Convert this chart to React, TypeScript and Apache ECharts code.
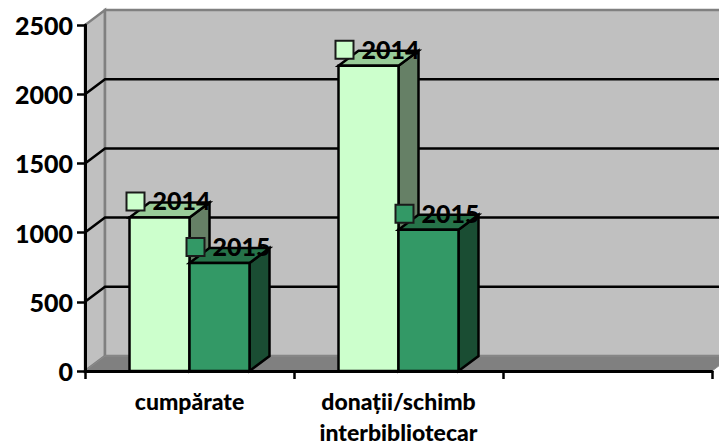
import React, { useEffect, useRef } from "react";
import * as echarts from "echarts";

const categories = ["cumpărate", "donații/schimb\ninterbibliotecar", ""];
const values2014 = [1110, 2205, null];
const values2015 = [780, 1020, null];
const innerTicks = [500, 1000, 1500, 2000];

const DX = 20;
const DY = 15;
const BAR_FRACTION = 60 / 209;
const FONT = "Lato";

function pts(list: number[][]) {
  return { points: list };
}

function wallsItem(params: any, api: any) {
  const [, y0] = api.coord([0, 0]);
  const [, y1] = api.coord([0, 2500]);
  const x = params.coordSys.x;
  const width = params.coordSys.width;
  const grey = "#808080";
  return {
    type: "group",
    children: [
      {
        type: "polygon",
        shape: pts([[x, y0], [x + DX, y0 - DY], [x + DX, y1 - DY], [x, y1]]),
        style: { fill: "#C0C0C0", stroke: grey, lineWidth: 2.5 },
      },
      {
        type: "rect",
        shape: { x: x + DX, y: y1 - DY, width, height: y0 - y1 },
        style: { fill: "#C0C0C0", stroke: grey, lineWidth: 2.5 },
      },
      {
        type: "polygon",
        shape: pts([[x, y0], [x + DX, y0 - DY], [x + width + DX, y0 - DY], [x + width, y0]]),
        style: { fill: "#808080", stroke: "#8c8c8c", lineWidth: 1 },
      },
    ],
  };
}

function gridLineItem(params: any, api: any) {
  const [, y] = api.coord([0, api.value(0)]);
  const left = params.coordSys.x;
  const right = left + params.coordSys.width + DX;
  return {
    type: "polyline",
    shape: pts([[left, y], [left + DX, y - DY], [right, y - DY]]),
    style: { fill: "none", stroke: "#000", lineWidth: 2.5 },
  };
}

function barItem(offsetSign: number, front: string, top: string, side: string) {
  return (params: any, api: any) => {
    const value = api.value(1);
    if (value == null || isNaN(value)) return null;
    const [cx, yTop] = api.coord([api.value(0), value]);
    const [, yBase] = api.coord([api.value(0), 0]);
    const w = api.size([1, 0])[0] * BAR_FRACTION;
    const l = offsetSign < 0 ? cx - w : cx;
    const r = l + w;
    const style = (fill: string) => ({ fill, stroke: "#000", lineWidth: 2.5, lineJoin: "miter" });
    return {
      type: "group",
      children: [
        { type: "polygon", shape: pts([[r, yBase], [r + DX, yBase - DY], [r + DX, yTop - DY], [r, yTop]]), style: style(side) },
        { type: "polygon", shape: pts([[l, yTop], [l + DX, yTop - DY], [r + DX, yTop - DY], [r, yTop]]), style: style(top) },
        { type: "rect", shape: { x: l, y: yTop, width: w, height: yBase - yTop }, style: style(front) },
      ],
    };
  };
}

function labelItem(offsetSign: number, key: string, text: string) {
  return (params: any, api: any) => {
    const value = api.value(1);
    if (value == null || isNaN(value)) return null;
    const [cx, yTop] = api.coord([api.value(0), value]);
    const w = api.size([1, 0])[0] * BAR_FRACTION;
    const l = offsetSign < 0 ? cx - w : cx;
    return {
      type: "group",
      children: [
        { type: "rect", shape: { x: l - 3, y: yTop - 25, width: 18, height: 18 }, style: { fill: key, stroke: "#1a1a1a", lineWidth: 2 } },
        {
          type: "text",
          style: { x: l + 23, y: yTop - 17, text, fill: "#000", font: `900 25px ${FONT}`, textAlign: "left", textVerticalAlign: "middle" },
        },
      ],
    };
  };
}

function toData(values: (number | null)[]) {
  return values.map((v, i) => [i, v]);
}

export default function App() {
  const ref = useRef<HTMLDivElement>(null);
  useEffect(() => {
    document.body.style.margin = "0";
    const chart = echarts.init(ref.current!, undefined, { renderer: "svg" });
    const axisLine = { show: true, lineStyle: { color: "#000", width: 3 } };
    const axisTick = { show: true, length: 8, lineStyle: { color: "#000", width: 2.5 } };
    chart.setOption({
      animation: false,
      backgroundColor: "#fff",
      grid: { left: 85, top: 25, right: 7, bottom: 73, outerBoundsMode: "none" },
      xAxis: {
        type: "category",
        data: categories,
        boundaryGap: true,
        axisLine,
        axisTick: { ...axisTick, alignWithLabel: false, interval: 0 },
        splitLine: { show: false },
        z: 10,
        axisLabel: { interval: 0, color: "#000", fontFamily: FONT, fontWeight: 900, fontSize: 23, lineHeight: 31, margin: 14 },
      },
      yAxis: {
        type: "value",
        min: 0,
        max: 2500,
        interval: 500,
        axisLine,
        axisTick,
        splitLine: { show: false },
        z: 10,
        axisLabel: { color: "#000", fontFamily: FONT, fontWeight: 900, fontSize: 25, margin: 12, formatter: (v: number) => String(v) },
      },
      series: [
        { type: "custom", name: "walls", coordinateSystem: "cartesian2d", z: 1, clip: false, silent: true, encode: { x: 0, y: 1 }, data: [[0, 0]], renderItem: wallsItem },
        { type: "custom", name: "grid", coordinateSystem: "cartesian2d", z: 2, clip: false, silent: true, encode: { y: 0 }, data: innerTicks.map((v) => [v]), renderItem: gridLineItem },
        { type: "custom", name: "2014", coordinateSystem: "cartesian2d", z: 3, clip: false, encode: { x: 0, y: 1 }, data: toData(values2014), renderItem: barItem(-1, "#CCFFCC", "#99CC99", "#668066") },
        { type: "custom", name: "2015", coordinateSystem: "cartesian2d", z: 4, clip: false, encode: { x: 0, y: 1 }, data: toData(values2015), renderItem: barItem(1, "#339966", "#267349", "#1A4D33") },
        { type: "custom", name: "label2014", coordinateSystem: "cartesian2d", z: 5, clip: false, encode: { x: 0, y: 1 }, data: toData(values2014), renderItem: labelItem(-1, "#CCFFCC", "2014") },
        { type: "custom", name: "label2015", coordinateSystem: "cartesian2d", z: 6, clip: false, encode: { x: 0, y: 1 }, data: toData(values2015), renderItem: labelItem(1, "#339966", "2015") },
      ],
    });
    return () => chart.dispose();
  }, []);
  return <div ref={ref} style={{ width: 719, height: 444, overflow: "hidden" }} />;
}
